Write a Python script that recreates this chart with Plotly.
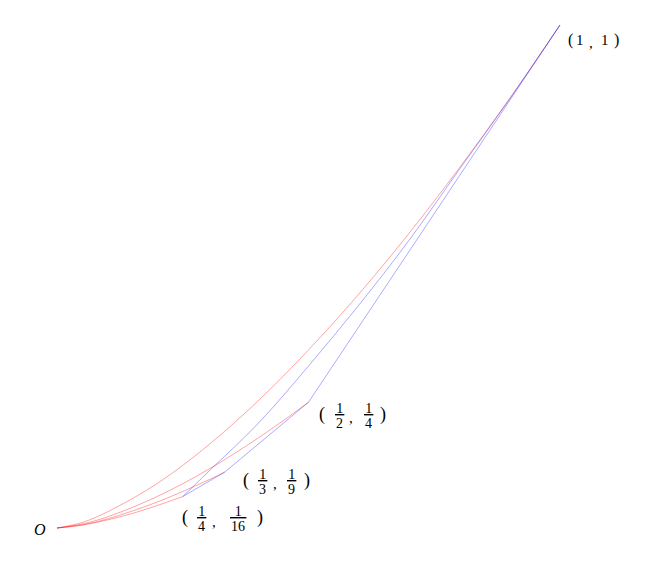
import plotly.graph_objects as go

# red arcs starting at O
arc_a_x = [0, 0.05, 0.1, 0.2, 0.3, 0.4, 0.5, 0.6, 0.7, 0.8, 0.9, 1.0]
arc_a_y = [0, 0.011, 0.032, 0.089, 0.164, 0.253, 0.354, 0.465, 0.586, 0.716, 0.854, 1.0]

arc_b_x = [0, 0.05, 0.1, 0.2, 0.3, 0.4, 0.5]
arc_b_y = [0, 0.008, 0.022, 0.063, 0.116, 0.179, 0.25]

arc_c_x = [0, 0.05, 0.1, 0.2, 0.3, 1 / 3]
arc_c_y = [0, 0.0065, 0.018, 0.052, 0.095, 1 / 9]

arc_d_x = [0, 0.05, 0.1, 0.15, 0.2, 0.25]
arc_d_y = [0, 0.0056, 0.016, 0.029, 0.045, 0.0625]

# blue broken line through the marked points
poly_x = [1 / 4, 1 / 3, 1 / 2, 1]
poly_y = [1 / 16, 1 / 9, 1 / 4, 1]

# blue curve from (1/4, 1/16) to (1, 1)
bend_x = [0.25, 0.3, 0.4, 0.5, 0.6, 0.7, 0.8, 0.9, 1.0]
bend_y = [0.0625, 0.111, 0.208, 0.322, 0.443, 0.572, 0.713, 0.853, 1.0]

# labelled points
point_x = [1, 1 / 2, 1 / 3, 1 / 4]
point_y = [1, 1 / 4, 1 / 9, 1 / 16]
point_num = [None, ("1", "1"), ("1", "1"), ("1", "1")]
point_den = [None, ("2", "4"), ("3", "9"), ("4", "16")]

RED = "rgba(255,0,0,0.45)"
BLUE = "rgba(0,0,255,0.42)"
FONT = "Liberation Serif"

fig = go.Figure()

for xs, ys in [(arc_a_x, arc_a_y), (arc_b_x, arc_b_y), (arc_c_x, arc_c_y), (arc_d_x, arc_d_y)]:
    fig.add_trace(go.Scatter(x=xs, y=ys, mode="lines",
                             line=dict(color=RED, width=0.8, shape="spline")))

fig.add_trace(go.Scatter(x=poly_x, y=poly_y, mode="lines",
                         line=dict(color=BLUE, width=0.8)))
fig.add_trace(go.Scatter(x=bend_x, y=bend_y, mode="lines",
                         line=dict(color=BLUE, width=0.8, shape="spline")))


def put(text, x, y, dx, dy, size):
    fig.add_annotation(x=x, y=y, text=text, showarrow=False,
                       xanchor="center", yanchor="middle",
                       xshift=dx, yshift=dy,
                       font=dict(family=FONT, size=size, color="black"))


def frac(num, den, x, y, dx, dy, pad):
    hs = "&#8202;" * pad
    put(f"<u>{hs}{num}{hs}</u>", x, y, dx, dy + 7, 14)
    put(den, x, y, dx, dy - 8, 14)


# O
put("<i>O</i>", 0, 0, -17, -1, 16)

# (1, 1)
px, py = point_x[0], point_y[0]
put("(", px, py, 11, -15, 16)
put("1", px, py, 20, -15, 15)
put(",", px, py, 31, -18, 15)
put("1", px, py, 45, -15, 15)
put(")", px, py, 57, -15, 16)

# fraction labels
offsets = {1: (14, -12), 2: (21, -8), 3: (2, -21)}
for i in (1, 2, 3):
    px, py = point_x[i], point_y[i]
    left, dy = offsets[i]
    (n1, n2), (d1, d2) = point_num[i], point_den[i]
    extra = 7 if len(d2) > 1 else 0
    put("(", px, py, left, dy, 18)
    frac(n1, d1, px, py, left + 17, dy - 1, 1)
    put(",", px, py, left + 29, dy - 4, 15)
    frac(n2, d2, px, py, left + 46 + extra, dy - 1, 4 if extra else 1)
    put(")", px, py, left + 61 + 2 * extra, dy, 18)

fig.update_layout(
    width=655,
    height=567,
    margin=dict(l=0, r=0, t=0, b=0),
    paper_bgcolor="white",
    plot_bgcolor="white",
    showlegend=False,
    xaxis=dict(range=[-0.0974, 1.2048], visible=False),
    yaxis=dict(range=[-0.0934, 1.0338], visible=False),
)

fig.write_html("out.html")
